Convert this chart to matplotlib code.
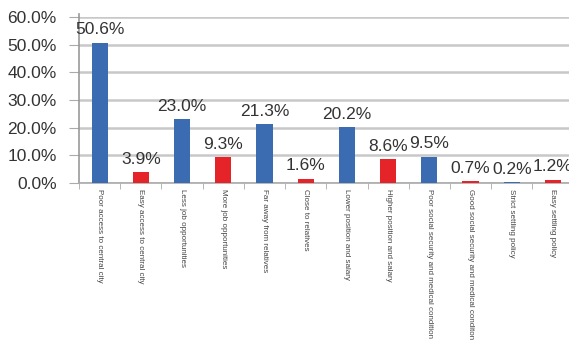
import matplotlib
matplotlib.use("Agg")
import matplotlib.pyplot as plt
import numpy as np

categories = [
    "Poor access to central city",
    "Easy access to central city",
    "Less job opportunities",
    "More job opportunities",
    "Far away from relatives",
    "Close to relatives",
    "Lower position and salary",
    "Higher position and salary",
    "Poor social security and medical condition",
    "Good social security and medical conditon",
    "Strict settling policy",
    "Easy settling policy",
]
values = [50.6, 3.9, 23.0, 9.3, 21.3, 1.6, 20.2, 8.6, 9.5, 0.7, 0.2, 1.2]
bar_colors = ["#3B6BB0", "#E52429"] * 6
y_ticks = [0, 10, 20, 30, 40, 50, 60]

plt.rcParams['font.family'] = ['Liberation Sans', 'DejaVu Sans']

fig = plt.figure(figsize=(5.69, 3.51), dpi=100)
ax = fig.add_axes([0.139, 0.4786, 0.861, 0.4729])

x = np.arange(len(categories))
bars = ax.bar(x, values, width=0.39, color=bar_colors, zorder=3)

for xi, v in zip(x, values):
    ax.annotate(f"{v:.1f}%", (xi, v), xytext=(0, 4), textcoords="offset points",
                ha="center", va="bottom", fontsize=12.5, color="#333333")

ax.set_xlim(-0.5, 11.39)
ax.set_ylim(0, 60)
ax.set_yticks(y_ticks)
ax.set_yticklabels([f"{t:.1f}%" for t in y_ticks], fontsize=12.5, color="#333333")
ax.yaxis.grid(True, color="#c8c8c8", linewidth=1.8, zorder=0)
ax.set_axisbelow(True)

ax.set_xticks(x)
ax.set_xticklabels(categories, rotation=-90, fontsize=5.8, color="#444444",
                   va="top", ha="center")
ax.set_xticks(np.arange(-0.5, 11.5, 1), minor=True)
ax.tick_params(axis="x", which="major", length=0, pad=4)
ax.tick_params(axis="x", which="minor", length=4, color="#aaaaaa", direction="out")
ax.tick_params(axis="y", length=7, color="#aaaaaa", pad=9)

for s in ["top", "right"]:
    ax.spines[s].set_visible(False)
ax.spines["left"].set_color("#999999")
ax.spines["left"].set_linewidth(1.2)
ax.spines["bottom"].set_color("#aaaaaa")
ax.spines["bottom"].set_linewidth(1.2)
ax.spines["left"].set_bounds(0, 61)
ax.set_ylim(0, 60)
ax.spines["left"].set_clip_on(False)

fig.savefig("out.png", dpi=100)
